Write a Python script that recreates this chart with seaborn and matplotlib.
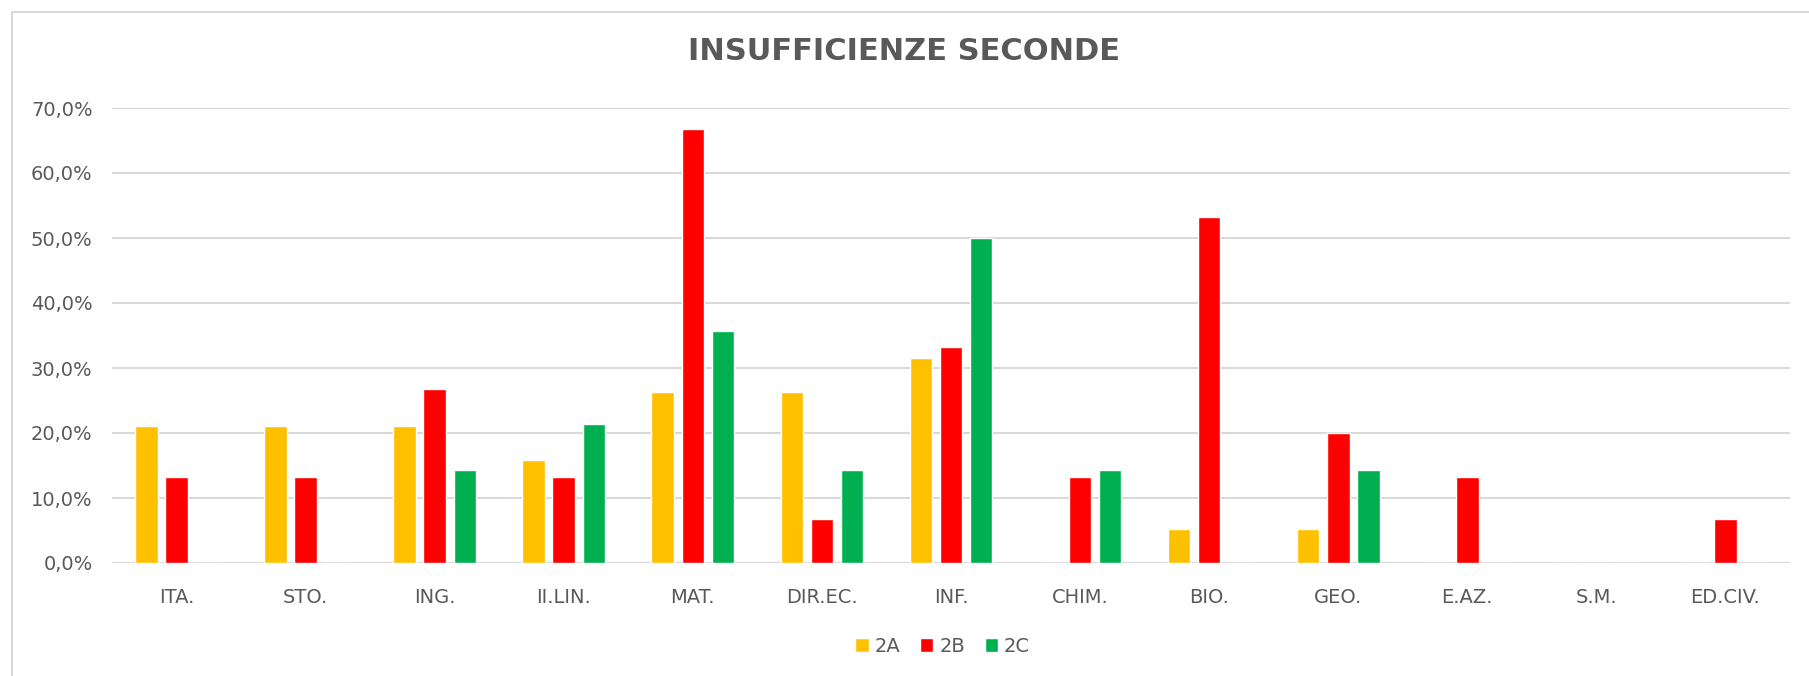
import pandas as pd
import numpy as np
import matplotlib.pyplot as plt
import seaborn as sns
from matplotlib.ticker import FuncFormatter
from matplotlib.patches import Rectangle

# data (percent of students per class)
subjects = ["ITA.", "STO.", "ING.", "II.LIN.", "MAT.", "DIR.EC.", "INF.",
            "CHIM.", "BIO.", "GEO.", "E.AZ.", "S.M.", "ED.CIV."]
classes = ["2A", "2B", "2C"]
val_2a = [21.1, 21.1, 21.1, 15.8, 26.3, 26.3, 31.6, 0.0, 5.3, 5.3, 0.0, 0.0, 0.0]
val_2b = [13.3, 13.3, 26.7, 13.3, 66.7, 6.7, 33.3, 13.3, 53.3, 20.0, 13.3, 0.0, 6.7]
val_2c = [0.0, 0.0, 14.3, 21.4, 35.7, 14.3, 50.0, 14.3, 0.0, 14.3, 0.0, 0.0, 0.0]
colors = ["#FFC000", "#FF0000", "#00B050"]

df = pd.DataFrame({
    "Materia": subjects * 3,
    "Classe": ["2A"] * 13 + ["2B"] * 13 + ["2C"] * 13,
    "Valore": val_2a + val_2b + val_2c,
})

sns.set_style("white")
plt.rcParams["font.family"] = ["DejaVu Sans"]
grey = "#595959"

fig = plt.figure(figsize=(18.09, 6.76), dpi=100)
ax = fig.add_axes([112 / 1809, 1 - 563 / 676, (1790 - 112) / 1809, (563 - 108) / 676])

sns.barplot(data=df, x="Materia", y="Valore", hue="Classe", hue_order=classes,
            palette=colors, width=0.7, gap=0.25, ax=ax, saturation=1, errorbar=None)

ax.set_ylim(0, 70)
ax.set_yticks(np.arange(0, 71, 10))
ax.yaxis.set_major_formatter(FuncFormatter(lambda v, p: f"{v:.1f}%".replace(".", ",")))
ax.grid(axis="y", color="#D9D9D9", linewidth=1.5)
ax.set_axisbelow(True)
for s in ax.spines.values():
    s.set_visible(False)
ax.set_xlim(-0.5, 12.5)
ax.set_xlabel("")
ax.set_ylabel("")
ax.tick_params(axis="both", length=0, labelsize=14, colors=grey, pad=14)
ax.tick_params(axis="x", pad=18)

fig.suptitle("INSUFFICIENZE SECONDE", x=0.5, y=1 - 52 / 676, va="center",
             fontsize=22, fontweight="bold", color=grey)

ax.legend(loc="center", bbox_to_anchor=(0.5 - 0.005, (563 - 646) / (563 - 108)),
          ncol=3, frameon=False, fontsize=14, labelcolor=grey,
          handlelength=0.7, handleheight=0.7, handletextpad=0.3, columnspacing=1.0)

# light outer frame like the spreadsheet chart area
fig.patches.append(Rectangle((12 / 1809, -0.01), 1.0, 1 - 12 / 676 + 0.01,
                             transform=fig.transFigure, fill=False,
                             edgecolor="#D9D9D9", linewidth=1.5))

fig.savefig("out.png", dpi=100)
